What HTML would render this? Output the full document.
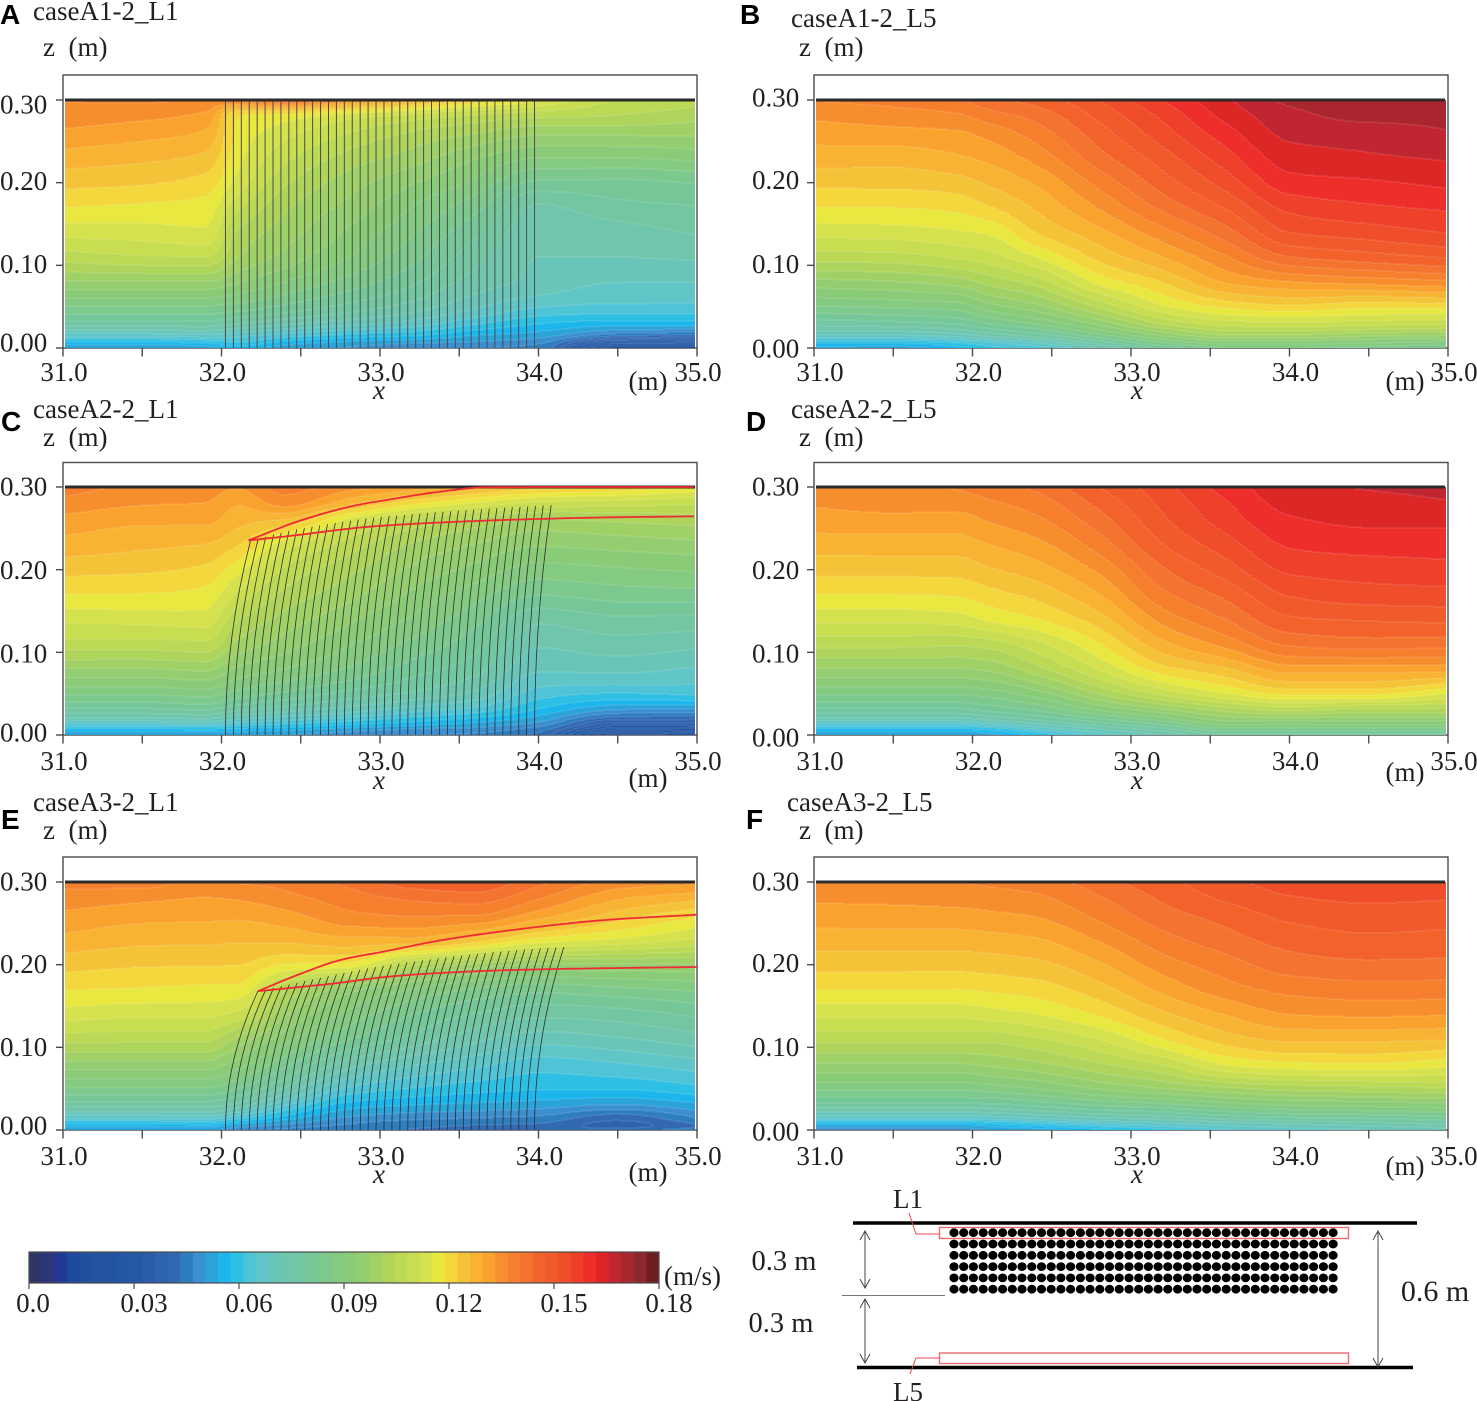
<!DOCTYPE html>
<html lang="en">
<head>
<meta charset="utf-8">
<title>Velocity contours</title>
<style>
html,body{margin:0;padding:0;background:#fff;}
#stage{display:block;width:1477px;height:1401px;}
text{font-family:"Liberation Serif","DejaVu Serif",serif;font-size:27px;fill:#231f20;}
.letter{font-family:"Liberation Sans","DejaVu Sans",sans-serif;font-weight:bold;font-size:28px;fill:#000;}
</style>
</head>
<body>
<svg id="stage" xmlns="http://www.w3.org/2000/svg" width="1477" height="1401" viewBox="0 0 1477 1401">
<defs>
<filter id="soft" x="-1%" y="-1%" width="102%" height="102%"><feGaussianBlur stdDeviation="0.35"/></filter>
</defs>
<g id="panels"></g>
<g id="legend"></g>
<g id="schematic">
  <line x1="853" y1="1223" x2="1417" y2="1223" stroke="#000" stroke-width="3.6"/>
  <line x1="857" y1="1367.5" x2="1413" y2="1367.5" stroke="#000" stroke-width="3.6"/>
  <line x1="842" y1="1295.5" x2="945" y2="1295.5" stroke="#777" stroke-width="1"/>
  <g id="dots"></g>
  <rect x="939.5" y="1227.5" width="409" height="11" fill="none" stroke="#ea6a6e" stroke-width="1.4"/>
  <rect x="939.5" y="1353" width="409" height="10.5" fill="none" stroke="#ea6a6e" stroke-width="1.4"/>
  <polyline points="909,1213 916,1234 939,1234" fill="none" stroke="#e8474c" stroke-width="1"/>
  <polyline points="910,1374 916,1358 939,1358" fill="none" stroke="#e8474c" stroke-width="1"/>
  <g fill="none" stroke="#444" stroke-width="1">
    <path d="M865 1231V1288M860 1240L865 1231L870 1240M860 1279L865 1288L870 1279"/>
    <path d="M865 1299V1363M860 1308L865 1299L870 1308M860 1354L865 1363L870 1354"/>
    <path d="M1378 1231V1367M1373 1240L1378 1231L1383 1240M1373 1358L1378 1367L1383 1358"/>
  </g>
  <text x="908" y="1208" text-anchor="middle">L1</text>
  <text x="908" y="1401" text-anchor="middle">L5</text>
  <text x="784" y="1270" text-anchor="middle" style="font-size:28.5px">0.3 m</text>
  <text x="781" y="1332" text-anchor="middle" style="font-size:28.5px">0.3 m</text>
  <text x="1435" y="1301" text-anchor="middle" style="font-size:30px">0.6 m</text>
</g>
</svg>
<script>
const legendColors=["#2f3566","#2d3678","#223993","#1d4a9e","#22509f","#2453a0","#2354a2","#2356a4","#2459a6","#2a5ca9","#2f62ad","#3069b1","#2e7dbf","#3a8fd0","#2aa3d8","#1fb6ec","#2dc0e4","#4fc4d6","#5fc5c6","#67c5b8","#6fc6ac","#72c6a2","#76c798","#7dc88c","#84ca80","#8acb78","#95ce70","#a0d166","#aed45c","#bcd954","#c8dd50","#d6e24e","#e9e83f","#f4d63c","#f5c338","#f8b331","#f9a22e","#f78e2f","#f67f2f","#f4732e","#f2622c","#f15a2a","#f04d29","#ef3f29","#ee2e2a","#dd2527","#bf2630","#a9282e","#8c2830","#6f1f20"];
const legendTicks=[0,0.03,0.06,0.09,0.12,0.15,0.18];
const legendTickLabels=["0.0","0.03","0.06","0.09","0.12","0.15","0.18"];
const xTicks=[31,31.5,32,32.5,33,33.5,34,34.5,35];
const xTickValues=[31,32,33,34,35];
const xTickLabels=["31.0","32.0","33.0","34.0","35.0"];
const zTicks=[0.3,0.2,0.1,0];
const zTickLabels=["0.30","0.20","0.10","0.00"];
const xStations=[31,31.5,31.9,32.1,32.4,32.8,33.2,33.6,34,34.5,35];
const zLevels=[0,0.005,0.015,0.03,0.05,0.08,0.11,0.14,0.17,0.2,0.23,0.26,0.28,0.3];
const fieldA=[
[.05,.055,.066,.078,.086,.097,.106,.113,.1188,.1236,.128,.1325,.135,.137],
[.05,.055,.066,.078,.086,.097,.1075,.1135,.118,.1228,.1268,.131,.134,.1375],
[.052,.057,.067,.078,.086,.097,.108,.1145,.1172,.1208,.125,.129,.132,.1365],
[.055,.06,.066,.076,.085,.094,.101,.104,.109,.114,.1165,.118,.119,.138],
[.052,.055,.063,.073,.082,.09,.096,.099,.1015,.105,.109,.113,.117,.143],
[.05,.052,.06,.07,.078,.085,.09,.093,.096,.099,.103,.108,.113,.135],
[.048,.05,.058,.067,.074,.08,.084,.087,.09,.094,.099,.104,.11,.128],
[.047,.049,.054,.062,.069,.074,.077,.08,.084,.089,.094,.101,.107,.122],
[.045,.047,.052,.058,.065,.071,.072,.073,.075,.082,.09,.098,.105,.116],
[.018,.026,.044,.056,.064,.0685,.072,.074,.078,.082,.09,.098,.104,.108],
[.018,.026,.042,.056,.064,.0685,.0725,.076,.079,.083,.091,.098,.102,.106]];
const fieldB=[
[.053,.057,.068,.077,.086,.096,.106,.113,.1187,.1234,.1277,.1314,.1338,.137],
[.052,.057,.068,.078,.087,.097,.1065,.1135,.1188,.1235,.1275,.132,.135,.138],
[.056,.06,.07,.08,.088,.099,.1085,.1147,.1198,.1245,.129,.1327,.136,.14],
[.06,.063,.073,.083,.092,.102,.11,.1158,.122,.1265,.1305,.1345,.1385,.143],
[.063,.067,.077,.087,.096,.106,.1152,.1225,.1265,.13,.1345,.1385,.1415,.1455],
[.072,.076,.085,.095,.105,.1164,.1235,.1285,.1335,.138,.1425,.146,.1485,.1512],
[.08,.085,.094,.105,.1145,.1225,.1295,.1355,.1414,.1458,.1495,.1533,.1555,.1585],
[.086,.09,.1,.11,.1195,.13,.1365,.1425,.148,.1528,.1568,.1605,.163,.165],
[.086,.09,.1,.111,.1215,.133,.1438,.1512,.1558,.1605,.1638,.1665,.168,.17],
[.085,.089,.098,.11,.1195,.1345,.146,.153,.1578,.1615,.165,.1675,.17,.1715],
[.083,.087,.097,.109,.12,.136,.148,.155,.159,.1628,.166,.169,.17,.171]];
const fieldC=[
[.05,.055,.067,.078,.087,.097,.1065,.1125,.1187,.1236,.1282,.132,.1355,.1385],
[.05,.055,.067,.078,.087,.097,.1065,.113,.1186,.123,.1268,.1305,.1335,.136],
[.051,.056,.068,.079,.088,.098,.107,.1135,.1175,.1215,.1258,.1305,.133,.1352],
[.05,.055,.065,.076,.085,.093,.1,.105,.111,.1165,.1226,.1275,.13,.1335],
[.05,.054,.063,.073,.082,.09,.0955,.0995,.1035,.1075,.1135,.1255,.1345,.1385],
[.048,.051,.06,.07,.078,.086,.0905,.0945,.0985,.102,.1065,.1145,.127,.135],
[.047,.049,.057,.066,.075,.081,.0855,.0895,.093,.0965,.1005,.1075,.1195,.1325],
[.046,.048,.054,.063,.071,.077,.0805,.084,.088,.0925,.097,.1035,.1145,.128],
[.042,.044,.05,.057,.063,.069,.0725,.0765,.083,.0885,.094,.1005,.1105,.124],
[.016,.024,.036,.05,.061,.0695,.074,.0785,.0845,.0895,.095,.1015,.1095,.122],
[.018,.025,.036,.049,.062,.068,.073,.078,.085,.0905,.096,.1025,.1085,.118]];
const fieldD=[
[.05,.055,.067,.078,.087,.097,.1055,.1125,.1186,.1236,.1275,.1318,.1336,.136],
[.05,.055,.067,.078,.087,.097,.1055,.1125,.1188,.1236,.1278,.132,.1345,.136],
[.05,.055,.067,.078,.087,.097,.105,.1135,.1192,.1238,.1278,.1318,.1345,.1372],
[.052,.057,.069,.08,.088,.098,.106,.1158,.121,.1255,.1295,.1335,.136,.139],
[.058,.063,.073,.083,.092,.103,.1105,.1186,.1235,.128,.132,.136,.1385,.1412],
[.066,.07,.079,.09,.101,.112,.1186,.1245,.1295,.134,.1385,.1425,.145,.1476],
[.072,.076,.085,.096,.109,.121,.1285,.1345,.1395,.1435,.1475,.1505,.152,.1535],
[.078,.083,.092,.102,.115,.1255,.1345,.1405,.145,.1495,.1532,.1565,.158,.16],
[.078,.083,.092,.105,.1195,.1315,.141,.147,.1515,.1555,.1588,.1615,.1632,.1645],
[.077,.083,.092,.103,.1195,.1315,.1422,.148,.1532,.1565,.1598,.1628,.164,.166],
[.078,.083,.092,.103,.115,.131,.1416,.1485,.1535,.1572,.16,.163,.1652,.167]];
const fieldE=[
[.05,.055,.066,.077,.086,.096,.106,.1135,.119,.1238,.1285,.1325,.1352,.138],
[.05,.055,.066,.077,.086,.096,.1055,.1125,.1184,.1228,.127,.131,.134,.1385],
[.051,.056,.067,.077,.086,.096,.1055,.1125,.1178,.1226,.1268,.1306,.133,.1355],
[.048,.052,.063,.074,.083,.092,.1,.1105,.1175,.1225,.1265,.1305,.1335,.137],
[.046,.049,.056,.065,.075,.084,.0915,.098,.105,.1185,.1268,.132,.1355,.138],
[.044,.046,.05,.056,.064,.074,.083,.089,.095,.1175,.1285,.136,.1385,.1415],
[.043,.044,.048,.054,.061,.069,.078,.083,.09,.1055,.1285,.137,.141,.146],
[.042,.043,.047,.053,.059,.066,.073,.079,.086,.1,.124,.1368,.142,.147],
[.04,.042,.046,.052,.058,.063,.07,.0765,.084,.097,.1176,.1315,.137,.1415],
[.042,.038,.041,.05,.058,.0645,.0715,.0775,.0855,.097,.1145,.1245,.13,.1355],
[.045,.043,.047,.053,.06,.067,.074,.08,.087,.097,.111,.1195,.127,.134]];
const fieldF=[
[.048,.053,.066,.078,.087,.097,.1055,.1125,.119,.1236,.1278,.1315,.1338,.136],
[.048,.053,.066,.078,.087,.097,.1055,.1125,.119,.1236,.1278,.1318,.134,.1362],
[.048,.053,.066,.078,.087,.097,.1055,.1125,.1188,.1236,.1278,.132,.1345,.1368],
[.05,.055,.067,.078,.088,.098,.1055,.1135,.1194,.124,.1282,.1325,.135,.1375],
[.052,.058,.069,.08,.09,.1,.1075,.1152,.1205,.125,.1292,.1335,.136,.1385],
[.056,.062,.072,.083,.094,.104,.1118,.1193,.1245,.129,.1335,.1378,.14,.1425],
[.06,.065,.074,.085,.097,.1085,.1187,.1252,.1305,.135,.139,.1425,.1445,.1465],
[.064,.068,.077,.088,.1,.1158,.1242,.1298,.1352,.1388,.1425,.1455,.1482,.1502],
[.066,.07,.079,.09,.102,.118,.1268,.1332,.1378,.1422,.1454,.1486,.1508,.1528],
[.068,.072,.08,.091,.103,.1186,.1268,.1338,.1388,.1432,.1468,.1497,.1518,.154],
[.07,.074,.082,.092,.104,.1167,.1262,.1334,.1387,.143,.1464,.1492,.1514,.1535]];
const stemBases=[32.025,32.075,32.125,32.175,32.225,32.275,32.325,32.375,32.425,32.475,32.525,32.575,32.625,32.675,32.725,32.775,32.825,32.875,32.925,32.975,33.025,33.075,33.125,33.175,33.225,33.275,33.325,33.375,33.425,33.475,33.525,33.575,33.625,33.675,33.725,33.775,33.825,33.875,33.925,33.975];
const tipBendC=[.158,.157,.155,.154,.152,.151,.15,.148,.147,.145,.144,.143,.141,.14,.138,.137,.136,.134,.133,.131,.13,.129,.127,.126,.124,.123,.122,.12,.119,.117,.116,.115,.113,.112,.11,.109,.108,.106,.105,.105];
const tipHeightC=[.235,.2375,.24,.2425,.2445,.247,.2487,.2503,.252,.2535,.255,.2565,.258,.2594,.2607,.262,.263,.264,.265,.2655,.266,.267,.2678,.2686,.2694,.27,.2707,.2714,.272,.2725,.273,.2737,.2744,.275,.2756,.276,.2765,.277,.2775,.278];
const tipBendE=[.205,.2045,.204,.2035,.203,.2025,.202,.2015,.201,.2005,.2,.1995,.199,.1985,.198,.1975,.197,.1965,.196,.1955,.195,.1945,.194,.1935,.193,.1925,.192,.1915,.191,.1905,.19,.1895,.189,.1885,.188,.1875,.187,.1865,.186,.185];
const tipHeightE=[.168,.17,.172,.174,.176,.178,.18,.182,.184,.186,.188,.19,.192,.194,.1955,.197,.1985,.2,.2014,.2028,.204,.2052,.2064,.2076,.2088,.21,.211,.212,.213,.214,.215,.2158,.2166,.2174,.2182,.219,.2196,.2202,.2208,.2214];
const tipHeightA=[.3,.3,.3,.3,.3,.3,.3,.3,.3,.3,.3,.3,.3,.3,.3,.3,.3,.3,.3,.3,.3,.3,.3,.3,.3,.3,.3,.3,.3,.3,.3,.3,.3,.3,.3,.3,.3,.3,.3,.3];
const tipBendA=[0,0,0,0,0,0,0,0,0,0,0,0,0,0,0,0,0,0,0,0,0,0,0,0,0,0,0,0,0,0,0,0,0,0,0,0,0,0,0,0];
const outlineUpperXC=[32.17,32.514,32.867,33.013,33.395,33.66,34.13,34.98];
const outlineUpperZC=[.2354,.2604,.2786,.2834,.2947,.2996,.3,.3];
const outlineLowerXC=[32.17,32.368,32.955,33.19,33.54,33.98,34.42,34.98];
const outlineLowerZC=[.2354,.2394,.2523,.2552,.2584,.2612,.2632,.2645];
const outlineUpperXE=[32.23,32.485,32.75,33.04,33.395,33.835,34.42,35];
const outlineUpperZE=[.168,.188,.2056,.2165,.2298,.2419,.254,.2605];
const outlineLowerXE=[32.23,32.37,32.66,33.1,33.54,34.13,35];
const outlineLowerZE=[.168,.1706,.1762,.1863,.1915,.1948,.1972];

const BAND_STEP=0.0036, Z_MAX=0.3, X_MIN=31, X_MAX=35, PLOT_H=248;
const NS="http://www.w3.org/2000/svg";
function mk(tag,attrs,parent,txt){
  const e=document.createElementNS(NS,tag);
  for(const k in attrs)e.setAttribute(k,attrs[k]);
  if(txt!==undefined)e.textContent=txt;
  if(parent)parent.appendChild(e);
  return e;
}
function bandOf(v){return Math.max(0,Math.min(legendColors.length-1,Math.floor(v/BAND_STEP)));}
function pchipSlopes(xs,ys){
  const n=xs.length,h=[],d=[],m=new Array(n);
  for(let i=0;i<n-1;i++){h.push(xs[i+1]-xs[i]);d.push((ys[i+1]-ys[i])/h[i]);}
  m[0]=d[0];m[n-1]=d[n-2];
  for(let i=1;i<n-1;i++){
    if(d[i-1]*d[i]<=0){m[i]=0;continue;}
    const w1=2*h[i]+h[i-1],w2=h[i]+2*h[i-1];
    m[i]=(w1+w2)/(w1/d[i-1]+w2/d[i]);
  }
  return m;
}
function pchipEval(xs,ys,m,x){
  const n=xs.length;
  let i=0;while(i<n-2&&x>xs[i+1])i++;
  const h=xs[i+1]-xs[i],t=Math.max(0,Math.min(1,(x-xs[i])/h)),t2=t*t,t3=t2*t;
  return (2*t3-3*t2+1)*ys[i]+(t3-2*t2+t)*h*m[i]+(-2*t3+3*t2)*ys[i+1]+(t3-t2)*h*m[i+1];
}
const panelLayouts=[
 {key:"a",letter:"A",lx:0,ly:24,title:"caseA1-2_L1",tx:33,ty:20,zx:43,zy:56,left:63,fillL:65,fillR:695,y0:348,frameTop:75,labX:0,xl:64,xlabOff:-1,unitX:648,unitY:390,xLabY:399,xNumY:381,shift:[5,-1,-1,-5],field:fieldA,base:stemBases,bend:tipBendA,tip:tipHeightA,straight:true},
 {key:"b",letter:"B",lx:740,ly:24,title:"caseA1-2_L5",tx:791,ty:27,zx:799,zy:56,left:814,fillL:816,fillR:1445,y0:348,frameTop:75,labX:752,xl:820,xlabOff:6,unitX:1405,unitY:390,xLabY:399,xNumY:381,shift:[-2,-2,-1,1],field:fieldB},
 {key:"c",letter:"C",lx:1,ly:431,title:"caseA2-2_L1",tx:33,ty:418,zx:43,zy:446,left:63,fillL:65,fillR:695,y0:735,frameTop:462.5,labX:0,xl:64,xlabOff:-1,unitX:648,unitY:787,xLabY:789,xNumY:770,shift:[0,1,1.5,-2],field:fieldC,base:stemBases,bend:tipBendC,tip:tipHeightC,up:[outlineUpperXC,outlineUpperZC],low:[outlineLowerXC,outlineLowerZC]},
 {key:"d",letter:"D",lx:746,ly:431,title:"caseA2-2_L5",tx:791,ty:418,zx:799,zy:446,left:814,fillL:816,fillR:1445,y0:735,frameTop:462.5,labX:752,xl:820,xlabOff:6,unitX:1405,unitY:781,xLabY:789,xNumY:770,shift:[0,1,1.5,3],field:fieldD},
 {key:"e",letter:"E",lx:1,ly:829,title:"caseA3-2_L1",tx:33,ty:811,zx:43,zy:839,left:63,fillL:65,fillR:695,y0:1130,frameTop:857,labX:0,xl:64,xlabOff:-1,unitX:648,unitY:1181,xLabY:1183,xNumY:1165,shift:[0,0,0,-4],field:fieldE,base:stemBases,bend:tipBendE,tip:tipHeightE,up:[outlineUpperXE,outlineUpperZE],low:[outlineLowerXE,outlineLowerZE]},
 {key:"f",letter:"F",lx:746,ly:829,title:"caseA3-2_L5",tx:787,ty:811,zx:799,zy:839,left:814,fillL:816,fillR:1445,y0:1130,frameTop:857,labX:752,xl:820,xlabOff:6,unitX:1405,unitY:1175,xLabY:1183,xNumY:1165,shift:[0,-1,0,2],field:fieldF}
];
const panelsRoot=document.getElementById("panels");
panelLayouts.forEach(function(p){
  const W=634;
  const sx=function(x){return p.left+(x-X_MIN)/(X_MAX-X_MIN)*W;};
  const sz=function(z){return p.y0-z/Z_MAX*PLOT_H;};
  const invX=function(px){return X_MIN+(px-p.left)/W*(X_MAX-X_MIN);};
  const g=mk("g",{},panelsRoot);
  
  

  const letter=mk("text",{x:p.lx,y:p.ly,"class":"letter"},g,p.letter);
  
  
  const title=mk("text",{x:p.tx,y:p.ty},g,p.title);
  
  
  const zTitle=mk("text",{x:p.zx,y:p.zy,style:"white-space:pre"},g,"z  (m)");
  
  

  const frame=mk("rect",{x:p.left,y:p.frameTop,width:W,height:p.y0-p.frameTop,fill:"#fff",stroke:"#4a4a4a","stroke-width":1.4},g);
  
  

  // contour bands
  const slopesByLevel=zLevels.map(function(_,k){
    return pchipSlopes(xStations,p.field.map(function(row){return row[k];}));
  });
  const buffers=legendColors.map(function(){return [];});
  const seams=[];
  const step=2;
  const top=p.y0-PLOT_H;
  for(let px=p.fillL;px<p.fillR;px+=step){
    const xv=invX(px+step/2);
    const col=zLevels.map(function(_,k){
      return pchipEval(xStations,p.field.map(function(row){return row[k];}),slopesByLevel[k],xv);
    });
    const colSlopes=pchipSlopes(zLevels,col);
    let runStart=top,runBand=-1;
    for(let py=top;py<=p.y0;py++){
      let b=-2;
      if(py<p.y0){
        const z=(p.y0-py-0.5)/PLOT_H*Z_MAX;
        b=bandOf(pchipEval(zLevels,col,colSlopes,z));
      }
      if(b!==runBand){
        if(runBand>=0){
          buffers[runBand].push("M"+px+" "+runStart+"h"+step+"v"+(py-runStart)+"h-"+step+"z");
          if(b>=0)seams.push("M"+px+" "+py+"h"+step);
        }
        runBand=b;runStart=py;
      }
    }
  }
  const bandsG=mk("g",{filter:"url(#soft)"},g);
  
  
  buffers.forEach(function(parts,i){
    if(!parts.length)return;
    const path=mk("path",{d:parts.join(""),fill:legendColors[i],"shape-rendering":"crispEdges"},bandsG);
    
    
  });
  const seamPath=mk("path",{d:seams.join(""),fill:"none",stroke:"#fff","stroke-opacity":0.16,"stroke-width":1},g);
  
  

  // stems
  if(p.base){
    const sg=mk("g",{fill:"none",stroke:p.straight?"#4a4a4a":"#2c2c2c","stroke-width":p.straight?1:0.8},g);
    
    
    p.base.forEach(function(b,i){
      const tz=p.tip[i],tx=b+p.bend[i];
      const s=mk("path",{d:"M"+sx(b).toFixed(2)+" "+sz(0)+"Q"+sx(b).toFixed(2)+" "+sz(tz*0.5).toFixed(2)+" "+sx(tx).toFixed(2)+" "+sz(tz).toFixed(2)},sg);
      
      
    });
  }

  // water surface
  const surf=mk("line",{x1:p.fillL,x2:p.fillR,y1:sz(Z_MAX),y2:sz(Z_MAX),stroke:"#2b2b2b","stroke-width":3},g);
  
  

  // canopy outline
  [p.up,p.low].forEach(function(c,ci){
    if(!c)return;
    const ms=pchipSlopes(c[0],c[1]);
    const first=sx(c[0][0]),last=sx(c[0][c[0].length-1]);
    const pts=[];
    for(let px=first;px<last;px+=3){
      pts.push(px.toFixed(1)+","+sz(pchipEval(c[0],c[1],ms,invX(px))).toFixed(1));
    }
    pts.push(last.toFixed(1)+","+sz(c[1][c[1].length-1]).toFixed(1));
    const l=mk("polyline",{points:pts.join(" "),fill:"none",stroke:"#ee2b34","stroke-width":1.8,"stroke-linejoin":"round"},g);
    
    
  });

  // axes
  const axis=mk("g",{stroke:"#4a4a4a","stroke-width":1.4},g);
  
  
  xTicks.forEach(function(t){
    const tk=mk("line",{x1:sx(t),x2:sx(t),y1:p.y0,y2:p.y0+8.5},axis);
    
    
  });
  zTicks.forEach(function(t,i){
    const tk=mk("line",{x1:p.left-7,x2:p.left,y1:sz(t),y2:sz(t)},axis);
    
    
    const lab=mk("text",{x:p.labX,y:sz(t)+p.shift[i]+8.5,stroke:"none"},g,zTickLabels[i]);
    
    
  });
  xTickValues.forEach(function(t,i){
    const lab=mk("text",{x:sx(t)+(p.xl-p.left),y:p.xNumY,"text-anchor":"middle"},g,xTickLabels[i]);
    
    
  });
  const xl=mk("text",{x:sx(33)+p.xlabOff,y:p.xLabY,"text-anchor":"middle","font-style":"italic"},g,"x");
  
  
  const un=mk("text",{x:p.unitX,y:p.unitY,"text-anchor":"middle"},g,"(m)");
  
  
});

// colorbar
(function(){
  const root=document.getElementById("legend");
  const L=29,R=659,T=1252,B=1283,MAXV=0.18;
  const sv=function(v){return L+v/MAXV*(R-L);};
  legendColors.forEach(function(c,i){
    const x0=sv(i*BAND_STEP),x1=sv((i+1)*BAND_STEP);
    const r=mk("rect",{x:x0.toFixed(2),y:T,width:(x1-x0+0.4).toFixed(2),height:B-T,fill:c},root);
    
    
  });
  const fr=mk("rect",{x:L,y:T,width:R-L,height:B-T,fill:"none",stroke:"#4a4a4a","stroke-width":1.2},root);
  
  
  legendTicks.forEach(function(t,i){
    const tk=mk("line",{x1:sv(t),x2:sv(t),y1:B,y2:B+6,stroke:"#4a4a4a","stroke-width":1.2},root);
    
    
    const lab=mk("text",{x:sv(t)+(i===0?4:10),y:1312,"text-anchor":"middle"},root,legendTickLabels[i]);
    
    
  });
  const un=mk("text",{x:664,y:1285},root,"(m/s)");
  
  
})();

// schematic dots
(function(){
  const root=document.getElementById("dots");
  for(let r=0;r<6;r++){
    for(let c=0;c<40;c++){
      const d=mk("ellipse",{cx:(954+c*9.72).toFixed(1),cy:(1232.7+r*11.3).toFixed(1),rx:4.6,ry:4.4,fill:"#000"},root);
      
      
    }
  }
})();
</script>
</body>
</html>
